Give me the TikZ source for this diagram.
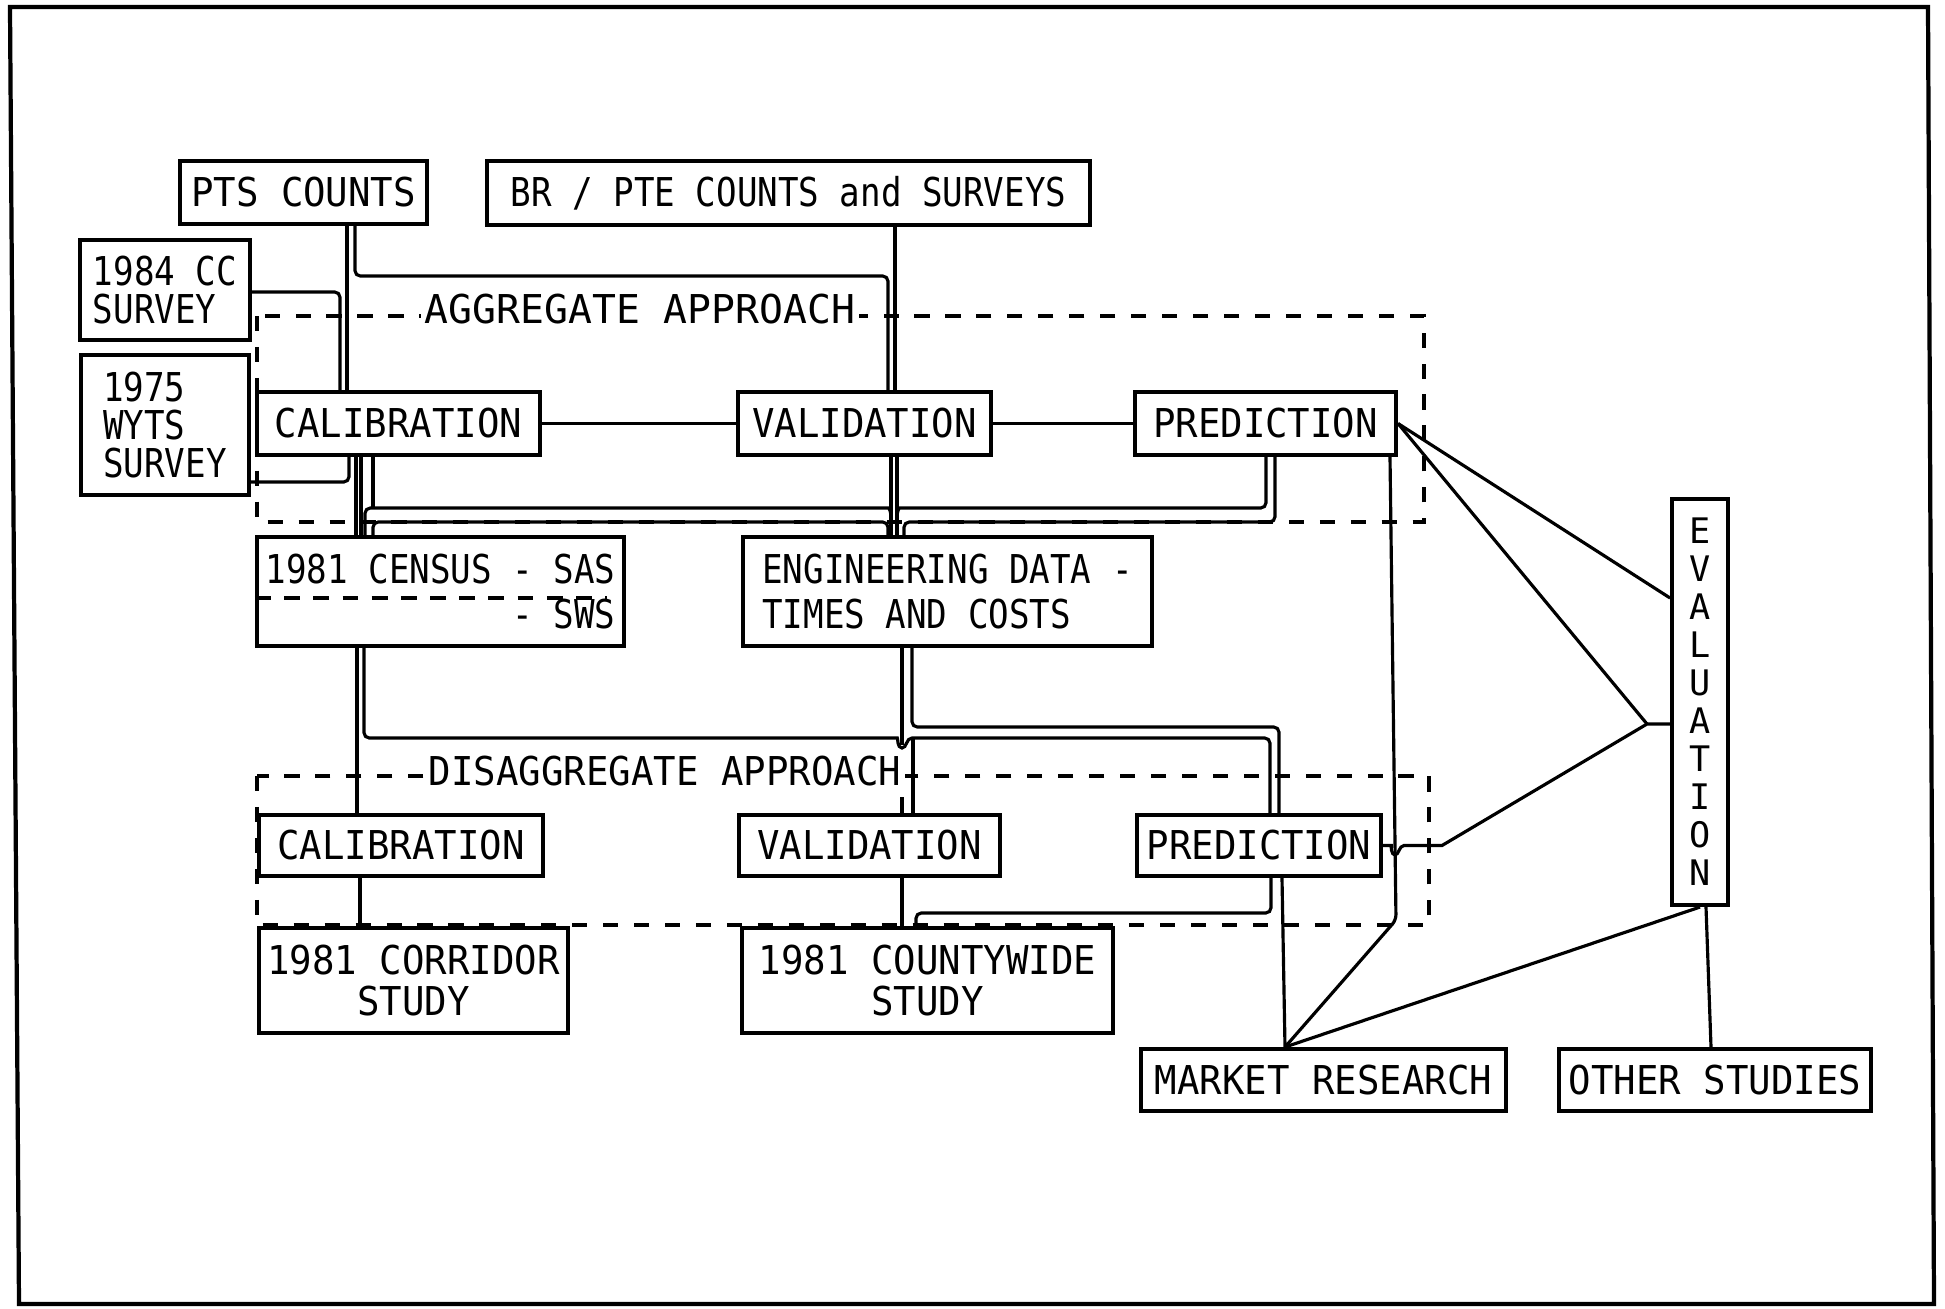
\documentclass[tikz,border=0pt]{standalone}
\usepackage{fontspec}
\usetikzlibrary{backgrounds}
\newfontfamily\lettfam[FakeStretch=0.94]{DejaVu Sans Mono}
\newfontfamily\lettnfam[FakeStretch=0.86]{DejaVu Sans Mono}
\newfontfamily\lettwfam{DejaVu Sans Mono}
\newcommand\lett{\lettfam\fontsize{11.3}{12.5}\selectfont}
\newcommand\lettn{\lettnfam\fontsize{11.3}{12.8}\selectfont}
\newcommand\lettw{\lettwfam\fontsize{11.3}{12.5}\selectfont}
\newcommand\letts{\lettwfam\fontsize{10}{10.8}\selectfont}
\tikzstyle{blk} = [draw, line width=1.1pt, inner sep=0pt, fill=white, font=\lett]
\tikzstyle{wire} = [line width=0.9pt, rounded corners=1.5pt]
\tikzstyle{zone} = [line width=1.3pt, dash pattern=on 4.3pt off 4.5pt]
\tikzstyle{tag} = [fill=white, inner xsep=1pt, inner ysep=3pt, font=\lett]

\begin{document}
\begin{tikzpicture}[x=0.01cm, y=-0.01cm]
      \useasboundingbox (0,0) rectangle (1945,1309);

      % Page frame
      \draw[line width=1.2pt] (10,7) -- (1928,7) -- (1934,1304) -- (19,1304) -- cycle;

      % Data sources
      \node[blk, minimum width=2.47cm, minimum height=0.63cm] (pts) at (303.5,192.5) {PTS COUNTS};
      \node[blk, font=\lettn, minimum width=6.03cm, minimum height=0.64cm] (br) at (788.5,193) {BR / PTE COUNTS and SURVEYS};
      \node[blk, font=\lettn, align=left, minimum width=1.70cm, minimum height=1.00cm] (cc) at (165,290) {1984 CC\\[-2pt]SURVEY};
      \node[blk, font=\lettn, align=left, minimum width=1.68cm, minimum height=1.40cm] (wyts) at (165,425) {1975\\[-2pt]WYTS\\[-2pt]SURVEY};
      \node[blk, font=\lettn, align=right, minimum width=3.67cm, minimum height=1.09cm] (census) at (440.5,591.5) {1981 CENSUS - SAS\\- SWS};
      \node[blk, font=\lettn, align=left, minimum width=4.09cm, minimum height=1.09cm] (eng) at (947.5,591.5) {ENGINEERING DATA -\\TIMES AND COSTS};

      % Aggregate approach
      \node[blk, minimum width=2.83cm, minimum height=0.63cm] (calA) at (398.5,423.5) {CALIBRATION};
      \node[blk, minimum width=2.53cm, minimum height=0.63cm] (valA) at (864.5,423.5) {VALIDATION};
      \node[blk, minimum width=2.61cm, minimum height=0.63cm] (preA) at (1265.5,423.5) {PREDICTION};

      % Disaggregate approach
      \node[blk, minimum width=2.84cm, minimum height=0.61cm] (calD) at (401,845.5) {CALIBRATION};
      \node[blk, minimum width=2.61cm, minimum height=0.61cm] (valD) at (869.5,845.5) {VALIDATION};
      \node[blk, minimum width=2.44cm, minimum height=0.61cm] (preD) at (1259,845.5) {PREDICTION};

      % Studies and evaluation
      \node[blk, align=center, minimum width=3.09cm, minimum height=1.05cm] (corr) at (413.5,980.5) {1981 CORRIDOR\\[-0.6pt]STUDY};
      \node[blk, align=center, minimum width=3.71cm, minimum height=1.05cm] (county) at (927.5,980.5) {1981 COUNTYWIDE\\[-0.6pt]STUDY};
      \node[blk, minimum width=3.65cm, minimum height=0.62cm] (market) at (1323.5,1080) {MARKET RESEARCH};
      \node[blk, minimum width=3.12cm, minimum height=0.62cm] (other) at (1715,1080) {OTHER STUDIES};
      \node[blk, font=\letts, align=center, minimum width=0.56cm, minimum height=4.06cm] (eval) at (1700,702) {E\\V\\A\\L\\U\\A\\T\\I\\O\\N};

      \draw[line width=0.9pt, dash pattern=on 4.5pt off 3.8pt] ([yshift=-0.065cm]census.west) -- ++(352,0);

      \coordinate (mktJ) at (market.north -| 1285,0);
      \coordinate (evalJ) at (1647,724);

      % Zones
      \begin{scope}[on background layer]
          \draw[zone] (257,316) rectangle (1424,522);
          \draw[zone] (257,776) rectangle (1429,925);
          \draw[wire] (eng.south -| 902,0) -- (valD.north -| 902,0);
          \node[tag, font=\lettw] (aggT) at (640,309) {AGGREGATE APPROACH};
          \node[tag] (disT) at (665,771) {DISAGGREGATE APPROACH};
      \end{scope}

      % Inputs
      \draw[wire] (pts.south -| 347,0) -- (calA.north -| 347,0);
      \draw[wire] (cc.east |- 0,292) -| (calA.north -| 340,0);
      \draw[wire] (pts.south -| 355,0) |- (888,276) -- (valA.north -| 888,0);
      \draw[wire] (br.south -| 895,0) -- (valA.north -| 895,0);
      \draw[wire] (wyts.east |- 0,482) -| (calA.south -| 349,0);
      \draw[wire] (calA.east) -- (valA.west);
      \draw[wire] (valA.east) -- (preA.west);

      % Aggregate links
      \draw[wire] (calA.south -| 356,0) -- (census.north -| 356,0);
      \draw[wire] (calA.south -| 361,0) -- (census.north -| 361,0);
      \draw[wire] (calA.south -| 373,0) -- (373,508);
      \draw[wire] (census.north -| 365,0) |- (883,508) [sharp corners] .. controls (889,508) and (891,511) .. (891,518);
      \draw[wire] (valA.south -| 891,0) -- (eng.north -| 891,0);
      \draw[wire] (valA.south -| 897,0) -- (eng.north -| 897,0);
      \draw[wire] (preA.south -| 1266,0) |- (905,508) [sharp corners] .. controls (899,508) and (897,511) .. (897,518);
      \draw[wire] (census.north -| 373,0) |- (888,522) -- (eng.north -| 888,0);
      \draw[wire] (eng.north -| 904,0) |- (1275,522) -- (preA.south -| 1275,0);

      % Disaggregate links
      \draw[wire] (census.south -| 357,0) -- (calD.north -| 357,0);
      \draw[wire] (census.south -| 364,0) |- (892,738) [sharp corners] .. controls (898,738) and (897,748) .. (902,748) .. controls (907,748) and (906,738) .. (912,738) [rounded corners=1.5pt] -| (preD.north -| 1270,0);
      \draw[wire] (valD.north -| 913,0) -- (913,738);
      \draw[wire] (eng.south -| 912,0) |- (1279,727) -- (preD.north -| 1279,0);
      \draw[wire] (calD.south -| 360,0) -- (corr.north -| 360,0);
      \draw[wire] (valD.south -| 902,0) -- (county.north -| 902,0);
      \draw[wire] (preD.south -| 1271,0) |- (916,913) -- (county.north -| 916,0);

      % Outputs
      \draw[wire] (preD.south -| 1282,0) -- (mktJ);
      \draw[wire] (preA.south -| 1390,0) -- (1396,920) -- (mktJ);
      \draw[wire] (preD.east) -- (1386,845.5) [sharp corners] .. controls (1391,845.5) and (1391,855) .. (1395,855) .. controls (1399,855) and (1399,845.5) .. (1404,845.5) -- (1442,845.5) -- (evalJ) -- (eval.west |- evalJ);
      \draw[wire] (preA.east) -- (eval.west |- 0,598);
      \draw[wire] (preA.east) -- (evalJ);
      \draw[wire] (eval.south) -- (mktJ);
      \draw[wire] (eval.south -| 1706,0) -- (other.north -| 1711,0);
    \end{tikzpicture}
\end{document}
